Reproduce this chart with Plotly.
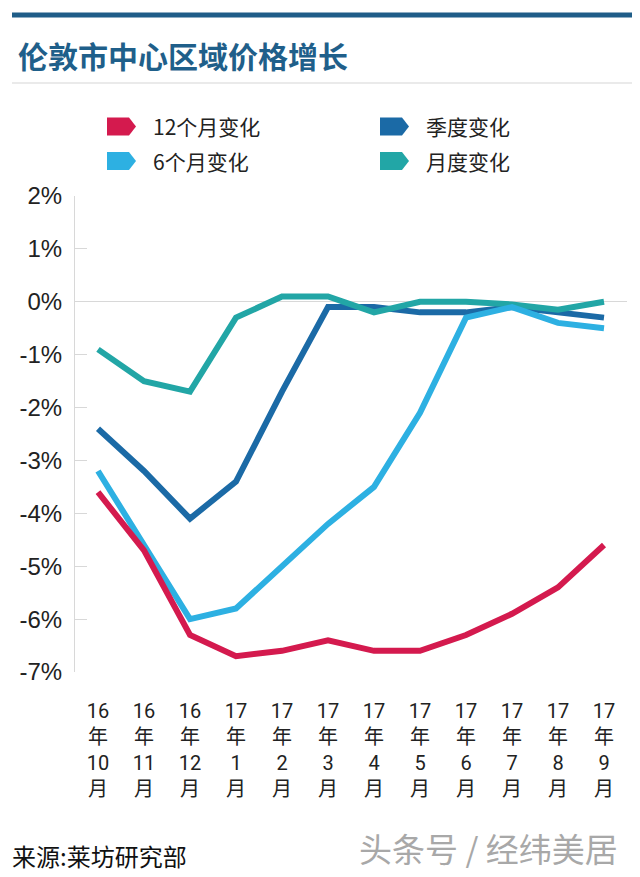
import plotly.graph_objects as go

# ---------------- data ----------------
months = ["16<br>年<br>10<br>月", "16<br>年<br>11<br>月", "16<br>年<br>12<br>月",
          "17<br>年<br>1<br>月", "17<br>年<br>2<br>月", "17<br>年<br>3<br>月",
          "17<br>年<br>4<br>月", "17<br>年<br>5<br>月", "17<br>年<br>6<br>月",
          "17<br>年<br>7<br>月", "17<br>年<br>8<br>月", "17<br>年<br>9<br>月"]
chg_12m = [-3.6, -4.7, -6.3, -6.7, -6.6, -6.4, -6.6, -6.6, -6.3, -5.9, -5.4, -4.6]
chg_6m = [-3.2, -4.6, -6.0, -5.8, -5.0, -4.2, -3.5, -2.1, -0.3, -0.1, -0.4, -0.5]
chg_q = [-2.4, -3.2, -4.1, -3.4, -1.7, -0.1, -0.1, -0.2, -0.2, -0.1, -0.2, -0.3]
chg_m = [-0.9, -1.5, -1.7, -0.3, 0.1, 0.1, -0.2, 0.0, 0.0, -0.05, -0.15, 0.0]
y_ticks = [-7, -6, -5, -4, -3, -2, -1, 0, 1, 2]
y_ticktext = ["-7%", "-6%", "-5%", "-4%", "-3%", "-2%", "-1%", "0%", "1%", "2%"]

series_names = ["季度变化", "月度变化", "6个月变化", "12个月变化"]
series_vals = [chg_q, chg_m, chg_6m, chg_12m]
series_colors = ["#1b6aa6", "#22a6a6", "#2db0e2", "#d41a4e"]

title = "伦敦市中心区域价格增长"
source = "来源:莱坊研究部"
watermark = "头条号 / 经纬美居"

# ---------------- layout helpers ----------------
W, H = 640, 877
def px(x):
    return x / W
def py(y):
    return 1 - y / H

CJK = "Noto Sans CJK SC"
TICKF = "Roboto, Noto Sans CJK SC"
LAT = "Liberation Sans, Arial, sans-serif"

y_top_px, y_bot_px = 196, 672
ydom = [py(y_bot_px), py(y_top_px)]
xdom = [px(75), px(627)]
ymin, ymax = -7, 2
zero_paper = ydom[0] + (ydom[1] - ydom[0]) * (0 - ymin) / (ymax - ymin)

fig = go.Figure()
for name, vals, col in zip(series_names, series_vals, series_colors):
    fig.add_trace(go.Scatter(x=months, y=vals, name=name, mode="lines",
                             line=dict(color=col, width=6),
                             showlegend=False, hoverinfo="skip"))

fig.update_layout(
    width=W, height=H, showlegend=False,
    margin=dict(l=0, r=0, t=0, b=0, pad=0, autoexpand=False),
    paper_bgcolor="white", plot_bgcolor="white",
    xaxis=dict(type="category", domain=xdom, range=[-0.5, 11.5],
               automargin=False,
               showline=False, showgrid=False, zeroline=False, ticks="",
               tickfont=dict(family=TICKF, size=20, color="#222"),
               ticklabelstandoff=25),
    xaxis2=dict(overlaying="x", anchor="free", position=zero_paper,
                automargin=False,
                domain=xdom, range=[-0.5, 11.5], showgrid=False,
                zeroline=False, showline=False, showticklabels=False,
                tickmode="array", tickvals=[i + 0.5 for i in range(-1, 11)],
                ticks="outside", ticklen=12, tickcolor="#d8d8d8", tickwidth=1),
    yaxis=dict(domain=ydom, range=[ymin, ymax], tickvals=y_ticks,
               ticktext=y_ticktext, showgrid=False, automargin=False,
               showline=True, linecolor="#d8d8d8", linewidth=1,
               zeroline=True, zerolinecolor="#d8d8d8", zerolinewidth=1,
               ticks="inside", ticklen=12, tickcolor="#d8d8d8", tickwidth=1,
               tickfont=dict(family=LAT, size=24, color="#222"),
               ticklabelstandoff=7),
)

shapes = [
    dict(type="line", xref="paper", yref="paper", x0=px(12), x1=px(632),
         y0=py(15), y1=py(15), line=dict(color="#1f5d88", width=5)),
    dict(type="line", xref="paper", yref="paper", x0=px(12), x1=px(632),
         y0=py(83), y1=py(83), line=dict(color="#d5d5d5", width=1)),
]

# legend: arrow-shaped markers + labels
legend_items = [
    ("12个月变化", "#d41a4e", 107, 126.5),
    ("6个月变化", "#2db0e2", 107, 161),
    ("季度变化", "#1b6aa6", 380, 126.5),
    ("月度变化", "#22a6a6", 380, 161),
]
annotations = []
for label, col, lx, ly in legend_items:
    w, h, tip = 29, 18, 7
    path = (f"M {px(lx)},{py(ly - h/2)} L {px(lx + w - tip)},{py(ly - h/2)} "
            f"L {px(lx + w)},{py(ly)} L {px(lx + w - tip)},{py(ly + h/2)} "
            f"L {px(lx)},{py(ly + h/2)} Z")
    shapes.append(dict(type="path", xref="paper", yref="paper", path=path,
                       fillcolor=col, line=dict(width=0)))
    annotations.append(dict(text=label, xref="paper", yref="paper",
                            x=px(lx + 44), y=py(ly), xanchor="left",
                            yanchor="middle", showarrow=False,
                            font=dict(family=CJK, size=21, color="#222")))

annotations.append(dict(text=f"<b>{title}</b>", xref="paper", yref="paper",
                        x=px(16), y=py(55), xanchor="left", yanchor="middle",
                        showarrow=False,
                        font=dict(family=CJK, size=30, color="#1f5f8a")))
annotations.append(dict(text=source, xref="paper", yref="paper",
                        x=px(10), y=py(855), xanchor="left", yanchor="middle",
                        showarrow=False,
                        font=dict(family=CJK, size=24, color="#111")))
annotations.append(dict(text=watermark, xref="paper", yref="paper",
                        x=px(620), y=py(848), xanchor="right", yanchor="middle",
                        showarrow=False,
                        font=dict(family=CJK, size=33, color="#a8a8a8")))

fig.update_layout(shapes=shapes, annotations=annotations)
fig.write_html("out.html", config={"displayModeBar": False},
               post_script="document.body.style.margin='0px';document.body.style.overflow='hidden';")
